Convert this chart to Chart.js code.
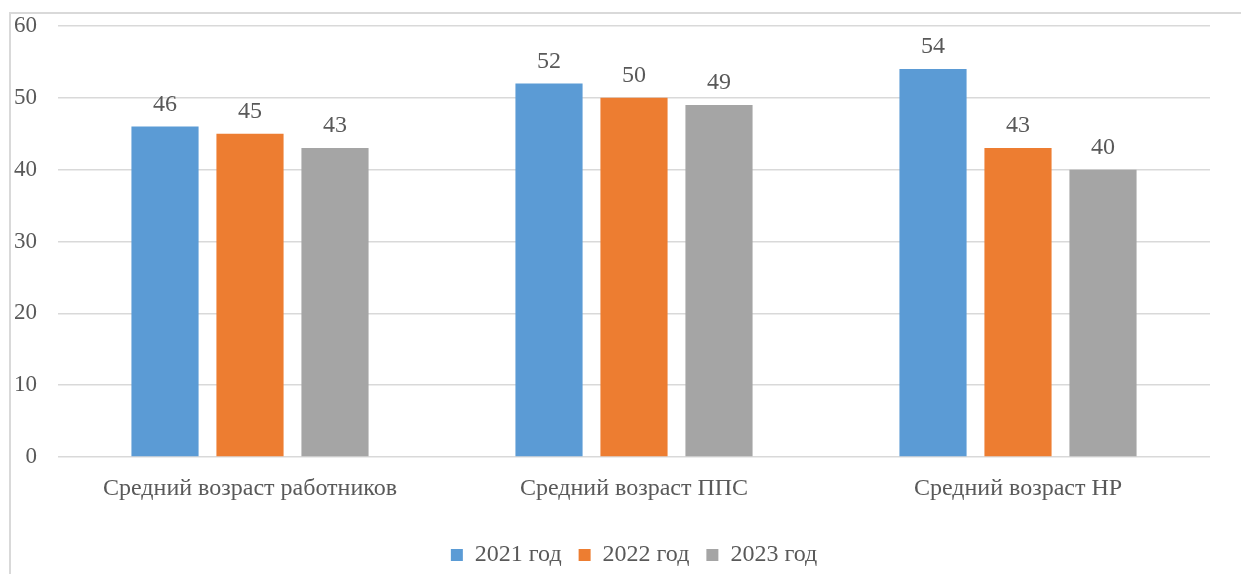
<!DOCTYPE html>
<html>
<head>
    <title>Средний возраст</title>
    <script src="https://cdn.jsdelivr.net/npm/chart.js"></script>
    <style>
        html, body { margin: 0; padding: 0; background: #fff; overflow: hidden; }
        canvas { display: block; }
    </style>
</head>
<body>
    <canvas id="ageChart" width="1241" height="574"></canvas>

    <script>
        const categories = ['Средний возраст работников', 'Средний возраст ППС', 'Средний возраст НР'];
        const years = ['2021 год', '2022 год', '2023 год'];
        const values2021 = [46, 52, 54];
        const values2022 = [45, 50, 43];
        const values2023 = [43, 49, 40];
        const yTicks = [0, 10, 20, 30, 40, 50, 60];

        const colors = ['#5b9bd5', '#ed7d31', '#a5a5a5'];
        const textColor = '#595959';
        const fontFamily = '"Liberation Serif", "Times New Roman", serif';

        // Frame around the chart (left and top edges only are visible)
        const framePlugin = {
            id: 'frame',
            beforeDraw(chart) {
                const ctx = chart.ctx;
                ctx.save();
                ctx.strokeStyle = '#d9d9d9';
                ctx.lineWidth = 2;
                ctx.beginPath();
                ctx.moveTo(10, chart.height);
                ctx.lineTo(10, 13);
                ctx.lineTo(chart.width, 13);
                ctx.stroke();
                ctx.restore();
            }
        };

        // Value labels above each bar
        const valueLabels = {
            id: 'valueLabels',
            afterDatasetsDraw(chart) {
                const ctx = chart.ctx;
                ctx.save();
                ctx.fillStyle = textColor;
                ctx.font = '24px ' + fontFamily;
                ctx.textAlign = 'center';
                ctx.textBaseline = 'bottom';
                chart.data.datasets.forEach((ds, i) => {
                    chart.getDatasetMeta(i).data.forEach((bar, j) => {
                        ctx.fillText(ds.data[j], bar.x, bar.y - 10);
                    });
                });
                ctx.restore();
            }
        };

        const datasets = [values2021, values2022, values2023].map((data, i) => ({
            label: years[i],
            data: data,
            backgroundColor: colors[i],
            categoryPercentage: 0.664,
            barPercentage: 0.79
        }));

        new Chart(document.getElementById('ageChart'), {
            type: 'bar',
            data: { labels: categories, datasets: datasets },
            options: {
                responsive: false,
                animation: false,
                layout: { padding: { left: 0, right: 31, top: 26, bottom: -3 } },
                plugins: {
                    tooltip: { enabled: false },
                    legend: {
                        position: 'bottom',
                        fullSize: false, // centre the legend under the plot area
                        labels: {
                            color: textColor,
                            font: { family: fontFamily, size: 24 },
                            boxWidth: 12,
                            boxHeight: 12,
                            padding: 17
                        }
                    }
                },
                scales: {
                    x: {
                        grid: { display: false, drawTicks: false },
                        border: { display: false },
                        ticks: {
                            color: textColor,
                            font: { family: fontFamily, size: 24 },
                            padding: 17,
                            maxRotation: 0
                        },
                        afterFit(s) {
                            s.height = 69;
                            s.paddingLeft = 0;
                            s.paddingRight = 0;
                        }
                    },
                    y: {
                        min: 0,
                        max: 60,
                        afterBuildTicks(s) { s.ticks = yTicks.map(v => ({ value: v })); },
                        grid: { color: '#d9d9d9', lineWidth: 1.5, drawTicks: false },
                        border: { display: false },
                        ticks: {
                            color: textColor,
                            font: { family: fontFamily, size: 23 },
                            padding: 21
                        },
                        afterFit(s) {
                            s.width = 58;
                            s.paddingTop = 0;
                            s.paddingBottom = 0;
                        }
                    }
                }
            },
            plugins: [framePlugin, valueLabels]
        });
    </script>
</body>
</html>
